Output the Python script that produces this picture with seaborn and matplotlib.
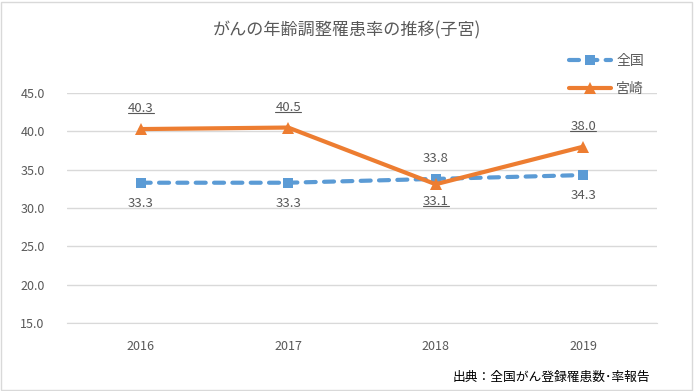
import pandas as pd
import matplotlib.pyplot as plt
import seaborn as sns
from matplotlib.patches import Rectangle
from matplotlib.lines import Line2D

years = ['2016', '2017', '2018', '2019']
zenkoku = [33.3, 33.3, 33.8, 34.3]
miyazaki = [40.3, 40.5, 33.1, 38.0]
zenkoku_label_above = [False, False, True, False]
miyazaki_label_above = [True, True, False, True]
yticks = [15.0, 20.0, 25.0, 30.0, 35.0, 40.0, 45.0]

title = 'がんの年齢調整罹患率の推移(子宮)'
source = '出典：全国がん登録罹患数･率報告'

sns.set_style('white')
plt.rcParams['font.family'] = ['Noto Sans CJK JP', 'DejaVu Sans']

gray = '#595959'
blue = '#5B9BD5'
orange = '#ED7D31'

df = pd.DataFrame({'year': years, '全国': zenkoku, '宮崎': miyazaki})

fig = plt.figure(figsize=(6.94, 3.91), dpi=100)
ax = fig.add_axes([0.0965, 0.174, 0.85, 0.588])

sns.lineplot(data=df, x='year', y='全国', ax=ax, color=blue, lw=3,
             marker='s', markersize=7, markeredgewidth=0, label='全国',
             sort=False)
ax.lines[-1].set_dashes([2.4, 2.0])
ax.lines[-1].set_dash_capstyle('round')
sns.lineplot(data=df, x='year', y='宮崎', ax=ax, color=orange, lw=3,
             marker='^', markersize=9, markeredgewidth=0, label='宮崎',
             sort=False)

for i, (v, up) in enumerate(zip(zenkoku, zenkoku_label_above)):
    ax.annotate(f'{v:.1f}', (i, v), xytext=(0, 10 if up else -10),
                textcoords='offset points', ha='center',
                va='bottom' if up else 'top', fontsize=9.5, color=gray)
miy_labels = []
for i, (v, up) in enumerate(zip(miyazaki, miyazaki_label_above)):
    t = ax.annotate(f'{v:.1f}', (i, v), xytext=(0, 10 if up else -8),
                    textcoords='offset points', ha='center',
                    va='bottom' if up else 'top', fontsize=9.5, color=gray)
    miy_labels.append(t)

ax.set_xlim(-0.5, 3.5)
ax.set_ylim(15, 45)
ax.set_yticks(yticks)
ax.set_yticklabels([f'{t:.1f}' for t in yticks])
ax.grid(axis='y', color='#D9D9D9', lw=1)
ax.set_axisbelow(True)
for s in ['top', 'right', 'left']:
    ax.spines[s].set_visible(False)
ax.spines['bottom'].set_color('#D9D9D9')
ax.tick_params(axis='y', length=0, labelsize=9, colors=gray, pad=16)
ax.tick_params(axis='x', length=0, labelsize=9, colors=gray, pad=12)
ax.set_xlabel('')
ax.set_ylabel('')

ax.legend(loc='upper left', bbox_to_anchor=(0.83, 1.225), frameon=False,
          fontsize=10, labelcolor=gray, handlelength=3.0, handletextpad=0.4,
          labelspacing=1.0)

fig.text(0.5, 0.923, title, ha='center', va='center', fontsize=12.3, color=gray)
fig.text(0.937, 0.035, source, ha='right', va='center', fontsize=9.2, color='#000000')

fig.add_artist(Rectangle((0.002, 0.003), 0.995, 0.993, transform=fig.transFigure,
                         fill=False, edgecolor='#D9D9D9', lw=1))

# underline the 宮崎 labels
fig.canvas.draw()
r = fig.canvas.get_renderer()
for t in miy_labels:
    bb = t.get_window_extent(r)
    y = bb.y0 + 2
    fig.add_artist(Line2D([bb.x0, bb.x1], [y, y], transform=None,
                          color=gray, lw=0.8))

fig.savefig('out.png', dpi=100)
